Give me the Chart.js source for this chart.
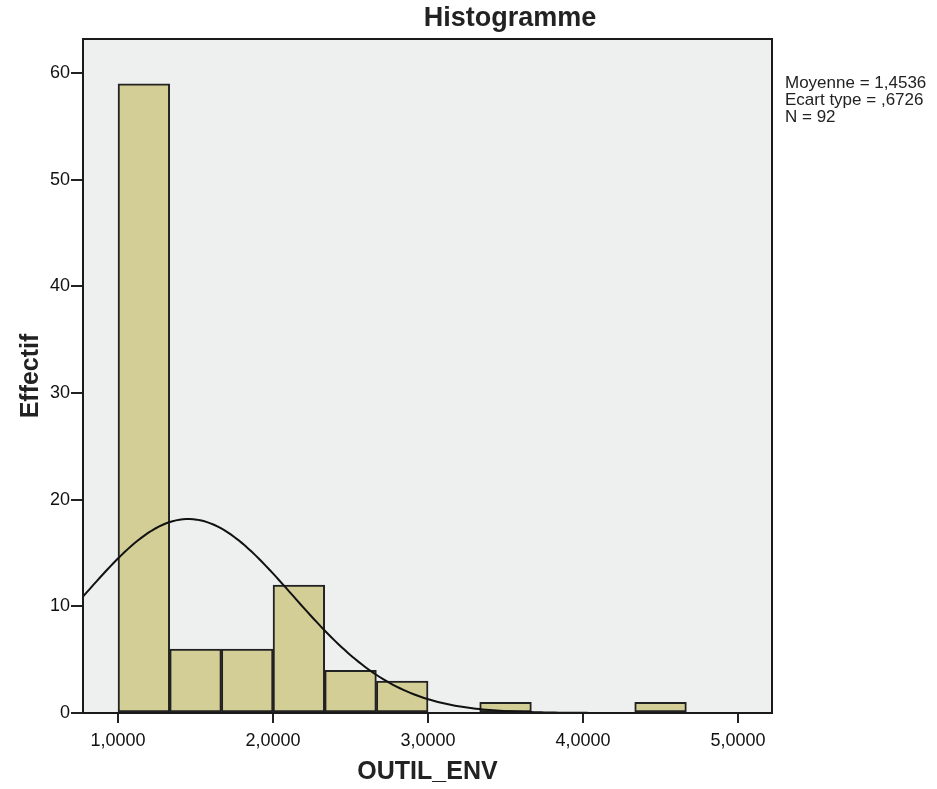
<!DOCTYPE html>
<html lang="fr">
<head>
    <meta charset="UTF-8">
    <title>Histogramme OUTIL_ENV</title>
    <script src="https://cdn.jsdelivr.net/npm/chart.js"></script>
    <style>
        html, body { margin: 0; padding: 0; background: #fff; }
        .chart-box { width: 937px; height: 789px; }
    </style>
</head>
<body>
    <div class="chart-box"><canvas id="histo"></canvas></div>

    <script>
        // classes de largeur 1/3 à partir de 1,0
        const binStart = 1;
        const binWidth = 1 / 3;
        const counts = [59, 6, 6, 12, 4, 3, 0, 1, 0, 0, 1, 0];
        const xTicks = [1, 2, 3, 4, 5];
        const yTicks = [0, 10, 20, 30, 40, 50, 60];

        // statistiques affichées à droite
        const moyenne = 1.4536;
        const ecartType = 0.6726;
        const effectifTotal = 92;
        const statLines = ['Moyenne = 1,4536', 'Ecart type = ,6726', 'N = 92'];

        const bars = counts.map((c, i) => ({ x: binStart + (i + 0.5) * binWidth, y: c }));

        // courbe normale de mêmes moyenne / écart type, mise à l'échelle des effectifs
        const xMin = 0.774, xMax = 5.219;
        const curve = [];
        for (let k = 0; k <= 200; k++) {
            const x = xMin + (xMax - xMin) * k / 200;
            const z = (x - moyenne) / ecartType;
            const y = effectifTotal * binWidth / (ecartType * Math.sqrt(2 * Math.PI)) * Math.exp(-0.5 * z * z);
            curve.push({ x, y });
        }

        const fmt = v => v.toFixed(4).replace('.', ',');
        const police = '"Liberation Sans", Arial, sans-serif';

        const frame = {
            id: 'frame',
            beforeDatasetsDraw(chart) {
                const a = chart.chartArea, ctx = chart.ctx;
                ctx.save();
                ctx.fillStyle = '#EEF0EF';
                ctx.fillRect(a.left, a.top, a.right - a.left, a.bottom - a.top);
                ctx.restore();
            },
            afterDraw(chart) {
                const a = chart.chartArea, ctx = chart.ctx;
                ctx.save();
                ctx.strokeStyle = '#1a1a1a';
                ctx.lineWidth = 2;
                ctx.strokeRect(a.left, a.top, a.right - a.left, a.bottom - a.top);

                ctx.fillStyle = '#222';
                ctx.font = 'bold 27px ' + police;
                ctx.textAlign = 'center';
                ctx.textBaseline = 'middle';
                ctx.fillText('Histogramme', 510, 19);

                ctx.font = '17px ' + police;
                ctx.textAlign = 'left';
                statLines.forEach((t, i) => ctx.fillText(t, a.right + 13, 83 + i * 17));
                ctx.restore();
            }
        };

        new Chart(document.getElementById('histo'), {
            data: {
                datasets: [
                    {
                        type: 'line',
                        data: curve,
                        borderColor: '#111',
                        borderWidth: 2,
                        pointRadius: 0,
                        tension: 0,
                        order: 0
                    },
                    {
                        type: 'bar',
                        data: bars,
                        backgroundColor: '#D3CE96',
                        borderColor: '#222',
                        borderWidth: ctx => (ctx.raw && ctx.raw.y ? 2 : 0),
                        borderSkipped: false,
                        barPercentage: 1,
                        categoryPercentage: 1,
                        order: 1
                    }
                ]
            },
            options: {
                responsive: true,
                maintainAspectRatio: false,
                animation: false,
                layout: { padding: { top: 39, right: 165, left: 0, bottom: 0 } },
                plugins: { legend: { display: false }, tooltip: { enabled: false } },
                scales: {
                    x: {
                        type: 'linear',
                        min: xMin,
                        max: xMax,
                        offset: false,
                        afterBuildTicks: s => { s.ticks = xTicks.map(v => ({ value: v })); },
                        afterFit: s => { s.height = 76; },
                        grid: { display: true, offset: false, drawOnChartArea: false, color: '#222', lineWidth: 2, tickLength: 10 },
                        border: { display: false },
                        ticks: {
                            color: '#111',
                            padding: 7,
                            maxRotation: 0,
                            font: { family: police, size: 18 },
                            callback: v => fmt(v)
                        },
                        title: {
                            display: true,
                            text: 'OUTIL_ENV',
                            color: '#222',
                            padding: { top: 0, bottom: 2 },
                            font: { family: police, size: 25, weight: 'bold' }
                        }
                    },
                    y: {
                        min: 0,
                        max: 63.2,
                        afterBuildTicks: s => { s.ticks = yTicks.map(v => ({ value: v })); },
                        afterFit: s => { s.width = 83; },
                        grid: { display: true, drawOnChartArea: false, color: '#222', lineWidth: 2, tickLength: 12 },
                        border: { display: false },
                        ticks: {
                            color: '#111',
                            padding: 1,
                            font: { family: police, size: 18 }
                        },
                        title: {
                            display: true,
                            text: 'Effectif',
                            color: '#222',
                            padding: { top: 16, bottom: 0 },
                            font: { family: police, size: 25, weight: 'bold' }
                        }
                    }
                }
            },
            plugins: [frame]
        });
    </script>
</body>
</html>
